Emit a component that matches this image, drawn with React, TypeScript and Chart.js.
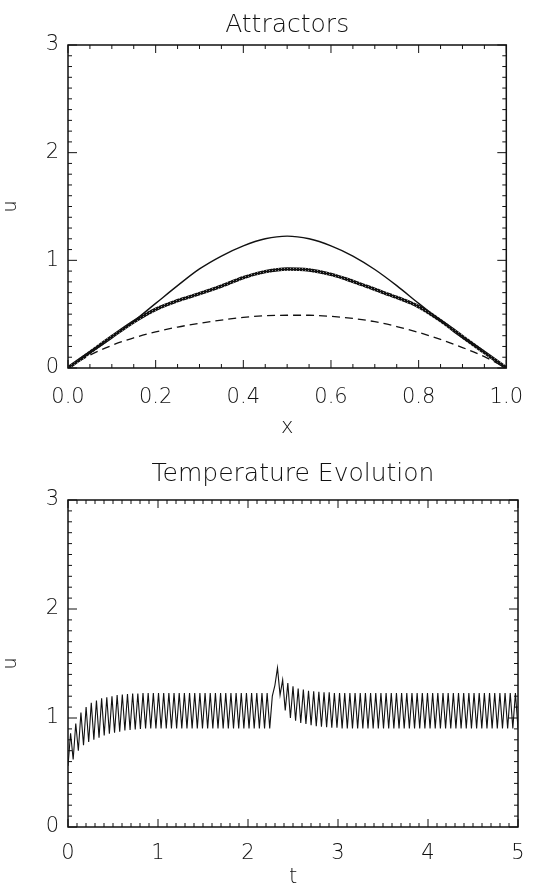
import React, { useEffect, useRef } from "react";
import { Chart, registerables } from "chart.js";

Chart.register(...registerables);

// ---------- Data: top panel "Attractors" ----------
const ATTR_X = [0, 0.05, 0.1, 0.15, 0.2, 0.25, 0.3, 0.35, 0.4, 0.45, 0.5, 0.55, 0.6, 0.65, 0.7, 0.75, 0.8, 0.85, 0.9, 0.95, 1.0];
const ATTR_UPPER = [0, 0.145, 0.29, 0.435, 0.6, 0.765, 0.92, 1.04, 1.135, 1.2, 1.225, 1.2, 1.135, 1.04, 0.915, 0.765, 0.6, 0.44, 0.29, 0.145, 0];
const ATTR_BAND = [0, 0.145, 0.29, 0.43, 0.545, 0.625, 0.69, 0.76, 0.84, 0.895, 0.92, 0.91, 0.87, 0.805, 0.73, 0.655, 0.57, 0.44, 0.29, 0.145, 0];
const ATTR_DASHED = [0, 0.12, 0.21, 0.28, 0.335, 0.38, 0.415, 0.445, 0.47, 0.485, 0.49, 0.49, 0.48, 0.46, 0.43, 0.385, 0.33, 0.265, 0.19, 0.105, 0];

// ---------- Data: bottom panel "Temperature Evolution" ----------
const TEMP_T_MAX = 5;
const TEMP_VALUES = [
  0.56, 0.86, 0.62, 0.95, 0.70, 1.05, 0.75, 1.10, 0.78, 1.14,
  0.80, 1.16, 0.82, 1.18, 0.84, 1.19, 0.855, 1.20, 0.865, 1.21,
  0.875, 1.215, 0.885, 1.22, 0.89, 1.225, 0.895, 1.225, 0.90, 1.23,
  0.905, 1.23, 0.905, 1.23, 0.905, 1.23, 0.905, 1.23, 0.905, 1.23,
  0.905, 1.23, 0.905, 1.23, 0.905, 1.23, 0.905, 1.23, 0.905, 1.23,
  0.905, 1.23, 0.905, 1.23, 0.905, 1.23, 0.905, 1.23, 0.905, 1.23,
  0.905, 1.23, 0.905, 1.23, 0.905, 1.23, 0.905, 1.23, 0.905, 1.23,
  0.905, 1.23, 0.905, 1.23, 0.905, 1.23, 0.905, 1.23, 0.905, 1.20,
  1.30, 1.46, 1.21, 1.35, 1.07, 1.32, 1.00, 1.29, 0.975, 1.27,
  0.955, 1.26, 0.945, 1.25, 0.935, 1.245, 0.925, 1.24, 0.92, 1.235,
  0.915, 1.235, 0.91, 1.23, 0.91, 1.23, 0.905, 1.23, 0.905, 1.23,
  0.905, 1.23, 0.905, 1.23, 0.905, 1.23, 0.905, 1.23, 0.905, 1.23,
  0.905, 1.23, 0.905, 1.23, 0.905, 1.23, 0.905, 1.23, 0.905, 1.23,
  0.905, 1.23, 0.905, 1.23, 0.905, 1.23, 0.905, 1.23, 0.905, 1.23,
  0.905, 1.23, 0.905, 1.23, 0.905, 1.23, 0.905, 1.23, 0.905, 1.23,
  0.905, 1.23, 0.905, 1.23, 0.905, 1.23, 0.905, 1.23, 0.905, 1.23,
  0.905, 1.23, 0.905, 1.23, 0.905, 1.23, 0.905, 1.23, 0.905, 1.23,
  0.905, 1.23, 0.905, 1.23, 0.905,
];

const INK = "#111111";
const FONT = "'DejaVu Sans', 'Liberation Sans', sans-serif";
const FW: any = 200;

// IDL-style frame: full box with inward major/minor ticks on all sides
const idlFrame = {
  id: "idlFrame",
  afterDatasetsDraw(chart: any, _args: any, opts: any) {
    const { ctx, chartArea: a, scales } = chart;
    const xs = scales.x;
    const ys = scales.y;
    ctx.save();
    ctx.strokeStyle = INK;
    ctx.lineWidth = 1;
    const line = (x1: number, y1: number, x2: number, y2: number) => {
      ctx.beginPath();
      ctx.moveTo(x1, y1);
      ctx.lineTo(x2, y2);
      ctx.stroke();
    };
    const nx = Math.round((xs.max - xs.min) / opts.xMinor);
    const rx = Math.round(opts.xMajor / opts.xMinor);
    for (let i = 0; i <= nx; i++) {
      const px = xs.getPixelForValue(xs.min + i * opts.xMinor);
      const len = i % rx === 0 ? 8 : 4;
      line(px, a.bottom, px, a.bottom - len);
      line(px, a.top, px, a.top + len);
    }
    const ny = Math.round((ys.max - ys.min) / opts.yMinor);
    const ry = Math.round(opts.yMajor / opts.yMinor);
    for (let i = 0; i <= ny; i++) {
      const py = ys.getPixelForValue(ys.min + i * opts.yMinor);
      const len = i % ry === 0 ? 9 : 4;
      line(a.left, py, a.left + len, py);
      line(a.right, py, a.right - len, py);
    }
    ctx.lineWidth = 1.5;
    ctx.strokeRect(a.left, a.top, a.right - a.left, a.bottom - a.top);
    ctx.restore();
  },
};

function buildOptions(cfg: any) {
  return {
    responsive: false,
    animation: false,
    events: [],
    layout: { padding: { left: 0, right: 22, top: 0, bottom: 0 } },
    plugins: {
      legend: { display: false },
      tooltip: { enabled: false },
      title: {
        display: true,
        fullSize: false,
        text: cfg.title,
        color: INK,
        font: { family: FONT, size: 25, weight: FW },
        padding: cfg.titlePad,
      },
      idlFrame: { xMinor: cfg.xMinor, xMajor: cfg.xStep, yMinor: 0.1, yMajor: 1 },
    },
    scales: {
      x: {
        type: "linear",
        min: 0,
        max: cfg.xMax,
        grid: { display: false, drawTicks: false },
        border: { display: false },
        ticks: {
          stepSize: cfg.xStep,
          autoSkip: false,
          maxRotation: 0,
          padding: cfg.xLabelPad,
          color: INK,
          font: { family: FONT, size: 21, weight: FW },
          callback: (v: any) => Number(v).toFixed(cfg.xDigits),
        },
        title: {
          display: true,
          text: cfg.xTitle,
          color: INK,
          font: { family: FONT, size: 21, weight: FW },
          padding: { top: 0, bottom: cfg.xTitlePad },
        },
        afterFit: (s: any) => {
          s.height = cfg.xAxisHeight;
        },
      },
      y: {
        type: "linear",
        min: 0,
        max: 3,
        grid: { display: false, drawTicks: false },
        border: { display: false },
        ticks: {
          stepSize: 1,
          padding: 9,
          color: INK,
          font: { family: FONT, size: 21, weight: FW },
          callback: (v: any) => String(Math.round(Number(v))),
        },
        title: {
          display: true,
          text: "u",
          color: INK,
          font: { family: FONT, size: 19, weight: FW },
          padding: { top: 0, bottom: 0 },
        },
        afterFit: (s: any) => {
          s.width = 68;
        },
      },
    },
  };
}

function makeHatch(): any {
  const pc = document.createElement("canvas");
  pc.width = 3;
  pc.height = 2;
  const p = pc.getContext("2d")!;
  p.fillStyle = "#111";
  p.fillRect(0, 0, 3, 2);
  p.fillStyle = "#8a8a8a";
  p.fillRect(2, 0, 1, 1);
  const c = document.createElement("canvas").getContext("2d")!;
  return c.createPattern(pc, "repeat");
}

export default function App() {
  const topRef = useRef<HTMLCanvasElement>(null);
  const botRef = useRef<HTMLCanvasElement>(null);

  useEffect(() => {
    const hatch = makeHatch();
    const pts = (ys: number[]) => ATTR_X.map((x, i) => ({ x, y: ys[i] }));

    const top = new Chart(topRef.current!, {
      type: "line",
      data: {
        datasets: [
          {
            data: pts(ATTR_UPPER),
            borderColor: INK,
            borderWidth: 1.4,
            pointRadius: 0,
            cubicInterpolationMode: "monotone",
          },
          {
            data: pts(ATTR_BAND),
            borderColor: hatch || "#222",
            borderWidth: 3.5,
            pointRadius: 0,
            cubicInterpolationMode: "monotone",
          },
          {
            data: pts(ATTR_DASHED),
            borderColor: INK,
            borderWidth: 1.3,
            borderDash: [8, 5],
            pointRadius: 0,
            cubicInterpolationMode: "monotone",
          },
        ],
      } as any,
      options: buildOptions({
        title: "Attractors",
        titlePad: { top: 10, bottom: 5 },
        xMax: 1,
        xStep: 0.2,
        xMinor: 0.05,
        xDigits: 1,
        xLabelPad: 17,
        xTitle: "x",
        xTitlePad: 7,
        xAxisHeight: 79,
      }) as any,
      plugins: [idlFrame],
    });

    const step = TEMP_T_MAX / (TEMP_VALUES.length - 1);
    const bottom = new Chart(botRef.current!, {
      type: "line",
      data: {
        datasets: [
          {
            data: TEMP_VALUES.map((u, i) => ({ x: i * step, y: u })),
            borderColor: INK,
            borderWidth: 1.1,
            pointRadius: 0,
            tension: 0,
          },
        ],
      } as any,
      options: buildOptions({
        title: "Temperature Evolution",
        titlePad: { top: 12, bottom: 11 },
        xMax: TEMP_T_MAX,
        xStep: 1,
        xMinor: 0.1,
        xDigits: 0,
        xLabelPad: 14,
        xTitle: "t",
        xTitlePad: 4,
        xAxisHeight: 67,
      }) as any,
      plugins: [idlFrame],
    });

    return () => {
      top.destroy();
      bottom.destroy();
    };
  }, []);

  return (
    <div style={{ position: "absolute", left: 0, top: 0, width: 540, height: 894, background: "#fff" }}>
      <canvas ref={topRef} width={540} height={447} style={{ display: "block", width: 540, height: 447 }} />
      <canvas ref={botRef} width={540} height={447} style={{ display: "block", width: 540, height: 447 }} />
    </div>
  );
}
